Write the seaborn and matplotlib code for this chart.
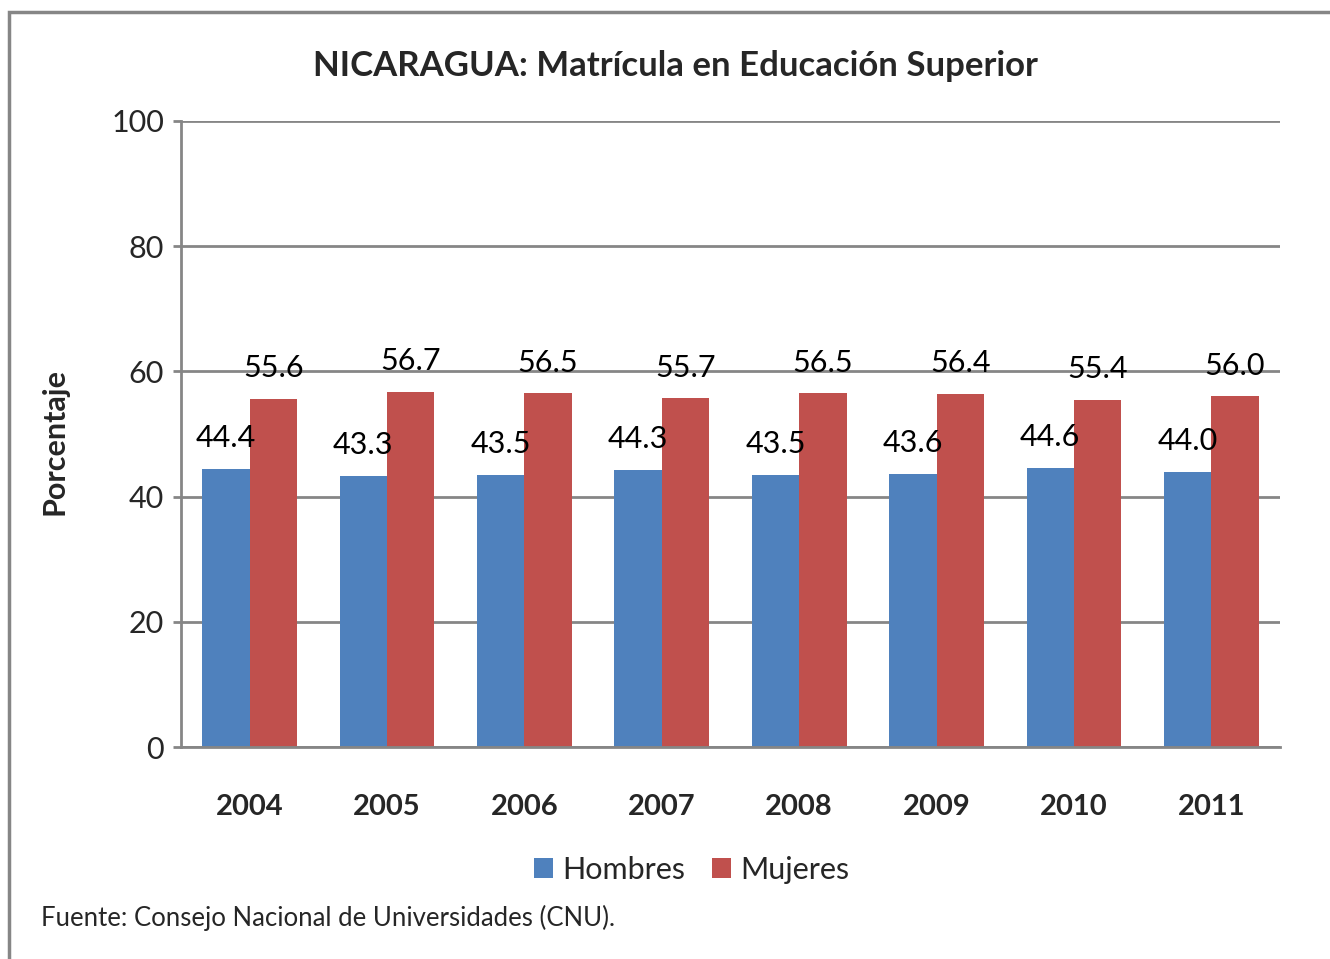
# Nicaragua: matricula en educacion superior por sexo (2004-2011)

import pandas as pd
import matplotlib.pyplot as plt
import seaborn as sns
from matplotlib.patches import Rectangle

# data
years = ['2004', '2005', '2006', '2007', '2008', '2009', '2010', '2011']
hombres = [44.4, 43.3, 43.5, 44.3, 43.5, 43.6, 44.6, 44.0]
mujeres = [55.6, 56.7, 56.5, 55.7, 56.5, 56.4, 55.4, 56.0]
series_names = ['Hombres', 'Mujeres']
y_ticks = [0, 20, 40, 60, 80, 100]

df = pd.DataFrame({
    'year': years * 2,
    'sexo': [series_names[0]] * len(years) + [series_names[1]] * len(years),
    'valor': hombres + mujeres,
})

sns.set_theme(style="white")
plt.rcParams['font.family'] = ['Lato', 'DejaVu Sans']

grid_col = '#868686'
fig = plt.figure(figsize=(13.3, 9.59), dpi=100)
ax = fig.add_axes([0.136, 0.221, 0.8264, 0.653])

sns.barplot(data=df, x='year', y='valor', hue='sexo',
            palette=['#4F81BD', '#C0504D'], width=0.69, saturation=1,
            linewidth=0, ax=ax, legend=True)

# value labels above each bar
for cont in ax.containers:
    ax.bar_label(cont, fmt='%.1f', padding=12, fontsize=22, color='black')

ax.set_ylim(0, 100)
ax.set_yticks(y_ticks)
ax.set_xlim(-0.5, len(years) - 0.5)
ax.yaxis.grid(True, color=grid_col, linewidth=2)
ax.set_axisbelow(True)
for s in ['top', 'right']:
    ax.spines[s].set_visible(False)
for s in ['left', 'bottom']:
    ax.spines[s].set_color(grid_col)
    ax.spines[s].set_linewidth(2)
ax.tick_params(axis='y', left=True, length=6, width=2, color=grid_col,
               labelsize=22, pad=6)
ax.tick_params(axis='x', bottom=False, labelsize=21, pad=28)
for lbl in ax.get_xticklabels():
    lbl.set_fontweight('bold')
ax.set_xlabel('')
ax.set_ylabel('')

# legend at the bottom
handles, labels = ax.get_legend_handles_labels()
ax.get_legend().remove()
fig.legend(handles, labels, loc='center', bbox_to_anchor=(0.52, 0.093),
           ncol=2, frameon=False, fontsize=22, handlelength=0.6,
           handleheight=0.6, handletextpad=0.3, columnspacing=0.9)

fig.text(0.508, 0.931, 'NICARAGUA: Matrícula en Educación Superior',
         ha='center', va='center', fontsize=25, fontweight='bold')
fig.text(0.041, 0.54, 'Porcentaje', rotation=90, ha='center', va='center',
         fontsize=22, fontweight='bold')
fig.text(0.031, 0.043, 'Fuente: Consejo Nacional de Universidades (CNU).',
         ha='left', va='center', fontsize=18.5)

# outer chart border
fig.patches.append(Rectangle((9 / 1330, -0.05), 1.2, 1 - 12 / 959 + 0.05,
                             transform=fig.transFigure, fill=False,
                             edgecolor=grid_col, linewidth=2.5))

plt.savefig('out.png', dpi=100)
